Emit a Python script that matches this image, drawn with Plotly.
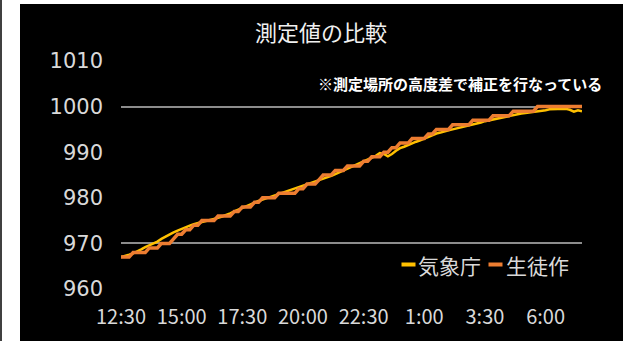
import plotly.graph_objects as go

# ---- data ----
start_hour, start_min, step_min, n_points = 12, 30, 10, 115
times = []
h, m = start_hour, start_min
for _ in range(n_points):
    times.append(f"{h}:{m:02d}")
    m += step_min
    if m >= 60:
        m -= 60
        h = (h + 1) % 24

tick_labels = ["12:30", "15:00", "17:30", "20:00", "22:30", "1:00", "3:30", "6:00"]
y_ticks = [960, 970, 980, 990, 1000, 1010]
grid_vals = [970, 1000, 1010]

jma = [
    967.0, 967.2, 967.5, 967.8, 968.2, 968.7, 969.2, 969.6, 970.0, 970.4,
    971.0, 971.5, 972.0, 972.4, 972.8, 973.2, 973.6, 973.9, 974.2, 974.5,
    974.7, 974.9, 975.1, 975.3, 975.6, 975.9, 976.2, 976.6, 977.0, 977.4,
    977.8, 978.2, 978.6, 979.0, 979.3, 979.6, 979.9, 980.2, 980.5, 980.8,
    981.1, 981.4, 981.7, 982.0, 982.3, 982.6, 982.9, 983.2, 983.5, 983.8,
    984.2, 984.5, 984.8, 985.2, 985.6, 986.0, 986.4, 986.8, 987.2, 987.6,
    988.0, 988.4, 988.8, 989.2, 989.8, 989.6, 989.1, 989.6, 990.3, 990.9,
    991.2, 991.6, 992.0, 992.3, 992.6, 993.0, 993.4, 993.7, 994.1, 994.3,
    994.6, 994.8, 995.0, 995.2, 995.4, 995.7, 995.9, 996.1, 996.3, 996.5,
    996.8, 997.0, 997.2, 997.4, 997.6, 997.8, 998.0, 998.2, 998.3, 998.5,
    998.6, 998.7, 998.8, 998.9, 999.1, 999.2, 999.4, 999.5, 999.5, 999.5,
    999.5, 999.3, 998.9, 999.2, 999.0,
]

student = [
    967, 967, 967, 968, 968, 968, 968, 969, 969, 969,
    970, 970, 970, 971, 972, 972, 973, 973, 974, 974,
    975, 975, 975, 975, 976, 976, 976, 976, 977, 977,
    978, 978, 978, 979, 979, 980, 980, 980, 980, 981,
    981, 981, 981, 981, 982, 982, 983, 983, 983, 984,
    985, 985, 985, 986, 986, 986, 987, 987, 987, 987,
    988, 988, 989, 989, 989, 990, 990, 991, 991, 992,
    992, 992, 993, 993, 993, 993, 994, 994, 995, 995,
    995, 995, 996, 996, 996, 996, 996, 997, 997, 997,
    997, 997, 998, 998, 998, 998, 998, 999, 999, 999,
    999, 999, 999, 1000, 1000, 1000, 1000, 1000, 1000, 1000,
    1000, 1000, 1000, 1000, 1000,
]

series_names = ["気象庁", "生徒作"]
colors = ["#FFC000", "#ED7D31"]

FONT = "Noto Sans CJK JP"
NUMFONT = "DejaVu Sans"
TXT = "#d9d9d9"

fig = go.Figure()
fig.add_trace(go.Scatter(x=times, y=jma, mode="lines", name=series_names[0],
                         line=dict(color=colors[0], width=2.5), showlegend=False))
fig.add_trace(go.Scatter(x=times, y=student, mode="lines", name=series_names[1],
                         line=dict(color=colors[1], width=3.5), showlegend=False))
# invisible trace to carry the secondary axis with the selective gridlines
fig.add_trace(go.Scatter(x=[times[0]], y=[jma[0]], yaxis="y2", mode="markers",
                         marker=dict(opacity=0), showlegend=False, hoverinfo="skip"))

L, R, T, B = 121, 51, 61, 52
W, H = 633, 341
pw, ph = W - L - R, H - T - B

def px_x(p):
    return (p - L) / pw

def px_y(p):
    return (H - B - p) / ph

# legend (keys + labels) laid out like the Excel legend
legend_items = []
key_x = [401, 488]
label_x = [416, 504]
for name, col, kx, lx in zip(series_names, colors, key_x, label_x):
    legend_items.append(dict(text=" ", xref="paper", yref="paper", x=px_x(kx), y=px_y(264),
                             xanchor="left", yanchor="middle", showarrow=False,
                             width=13, height=3, bgcolor=col, borderpad=0,
                             font=dict(size=1)))
    legend_items.append(dict(text=name, xref="paper", yref="paper", x=px_x(lx), y=px_y(265),
                             xanchor="left", yanchor="middle", showarrow=False,
                             font=dict(size=21, color=TXT, family=FONT)))

fig.update_layout(
    width=W, height=H,
    margin=dict(l=L, r=R, t=T, b=B, pad=0),
    paper_bgcolor="white",
    plot_bgcolor="rgba(0,0,0,0)",
    font=dict(family=FONT, color=TXT),
    title=dict(text="測定値の比較", x=321 / W, xref="container", xanchor="center",
               y=1 - 33 / H, yref="container", yanchor="middle",
               font=dict(size=22, color="#f0f0f0", family=FONT)),
    xaxis=dict(type="category", categoryorder="array", categoryarray=times,
               range=[0, n_points - 1], tickmode="array", tickvals=tick_labels,
               ticktext=tick_labels, showgrid=False, zeroline=False, showline=False,
               ticks="", tickfont=dict(size=20, color=TXT, family=FONT),
               ticklabelstandoff=14),
    yaxis=dict(range=[960, 1010], tickmode="array", tickvals=y_ticks,
               showgrid=False, zeroline=False, showline=False, ticks="",
               tickfont=dict(size=21, color=TXT, family=NUMFONT), ticklabelstandoff=17),
    yaxis2=dict(range=[960, 1010], overlaying="y", side="left", tickmode="array",
                tickvals=grid_vals, showgrid=True, gridcolor="#8c8c8c", gridwidth=1.5,
                showticklabels=False, zeroline=False, showline=False, ticks=""),
    shapes=[
        dict(type="rect", xref="paper", yref="paper", layer="below",
             x0=px_x(20), x1=px_x(623), y0=px_y(345), y1=px_y(4),
             fillcolor="black", line=dict(width=0)),
        dict(type="rect", xref="paper", yref="paper", layer="below",
             x0=px_x(-2), x1=px_x(2), y0=px_y(345), y1=px_y(-2),
             fillcolor="#404040", line=dict(width=0)),
    ],
    annotations=[
        dict(text="<b>※測定場所の高度差で補正を行なっている</b>", xref="paper", yref="paper",
             x=px_x(460), y=px_y(83), xanchor="center", yanchor="middle", showarrow=False,
             font=dict(size=15, color="white", family=FONT)),
    ] + legend_items,
)

fig.write_html("out.html")
